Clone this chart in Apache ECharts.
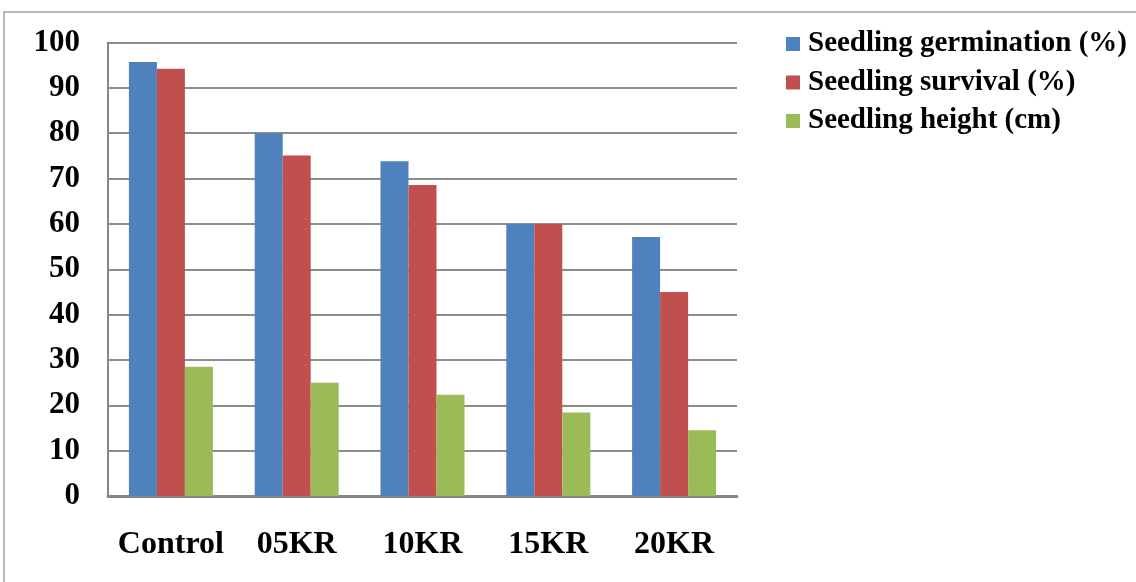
<!DOCTYPE html>
<html>
<head>
<meta charset="utf-8">
<script src="https://cdn.jsdelivr.net/npm/echarts@6/dist/echarts.min.js"></script>
<style>
  html, body { margin: 0; padding: 0; background: #ffffff; }
  #chart { width: 1136px; height: 582px; }
</style>
</head>
<body>
<div id="chart"></div>
<script>
// Treatments and measured seedling traits
const categories = ['Control', '05KR', '10KR', '15KR', '20KR'];
const germination = [95.7, 80.0, 73.8, 60.0, 57.1];
const survival = [94.2, 75.1, 68.6, 60.0, 45.0];
const height = [28.5, 25.0, 22.3, 18.4, 14.5];
const seriesNames = ['Seedling germination (%)', 'Seedling survival (%)', 'Seedling height (cm)'];
const seriesColors = ['#4f81bd', '#c0504d', '#9bbb59'];

const font = '"Liberation Serif", "Times New Roman", serif';
const chart = echarts.init(document.getElementById('chart'));

const values = [germination, survival, height];

chart.setOption({
  animation: false,
  backgroundColor: '#ffffff',
  graphic: [{
    type: 'rect',
    shape: { x: 4, y: 12, width: 1160, height: 600 },
    style: { fill: 'none', stroke: '#a0a0a0', lineWidth: 1.5 },
    silent: true
  }],
  legend: {
    orient: 'vertical',
    left: 786,
    top: 29.5,
    padding: 0,
    icon: 'rect',
    itemWidth: 14,
    itemHeight: 14,
    itemGap: 9.5,
    textStyle: {
      fontFamily: font,
      fontWeight: 'bold',
      fontSize: 29,
      color: '#000000',
      lineHeight: 28,
      padding: [0, 0, 0, 3]
    },
    data: seriesNames
  },
  grid: { left: 108, right: 399, top: 42.5, bottom: 86, containLabel: false },
  xAxis: {
    type: 'category',
    data: categories,
    axisLine: { show: true, lineStyle: { color: '#868686', width: 3 } },
    axisTick: { show: false },
    axisLabel: {
      interval: 0,
      margin: 33,
      fontFamily: font,
      fontWeight: 'bold',
      fontSize: 32,
      color: '#000000'
    }
  },
  yAxis: {
    type: 'value',
    min: 0,
    max: 100,
    interval: 10,
    axisLine: { show: true, lineStyle: { color: '#868686', width: 2 } },
    axisTick: { show: false },
    splitLine: { show: true, lineStyle: { color: '#8c8c8c', width: 2 } },
    axisLabel: {
      margin: 28,
      fontFamily: font,
      fontWeight: 'bold',
      fontSize: 31,
      color: '#000000'
    }
  },
  series: seriesNames.map((name, i) => ({
    name: name,
    type: 'bar',
    data: values[i],
    barWidth: 28,
    barGap: '0%',
    itemStyle: { color: seriesColors[i] }
  }))
});
</script>
</body>
</html>
